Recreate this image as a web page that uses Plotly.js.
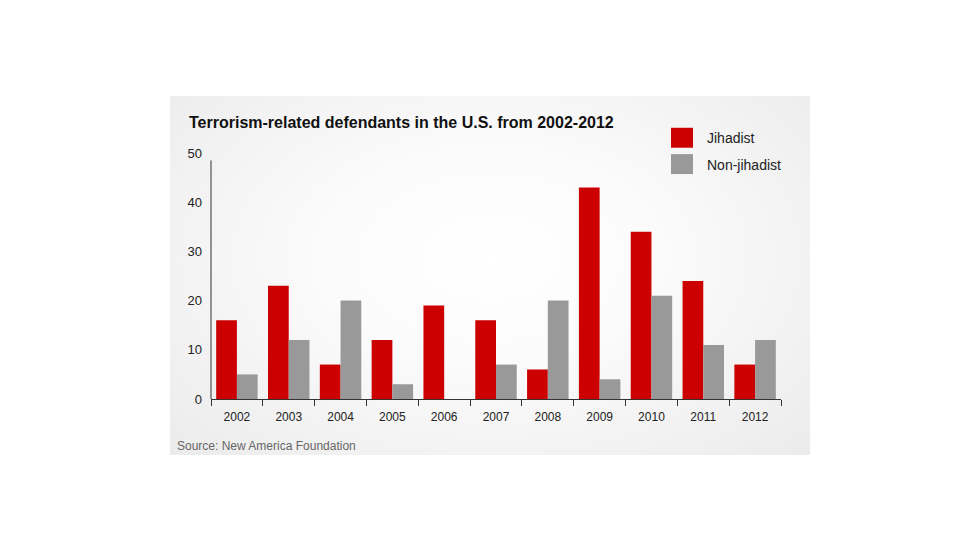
<!DOCTYPE html>
<html>
<head>
<meta charset="utf-8">
<script src="https://cdn.plot.ly/plotly-3.0.1.min.js"></script>
<style>
  html, body { margin: 0; padding: 0; background: #ffffff; }
  #wrap { position: relative; width: 980px; height: 552px; overflow: hidden; }
  #bg { position: absolute; left: 170px; top: 96px; width: 640px; height: 359px;
        background: radial-gradient(ellipse 75% 85% at 50% 45%, #ffffff 0%, #fbfbfb 35%, #f0f0f0 75%, #e9e9e9 100%); }
  #chart { position: absolute; left: 0; top: 0; width: 980px; height: 552px; }
</style>
</head>
<body>
<div id="wrap">
  <div id="bg"></div>
  <div id="chart"></div>
</div>
<script>
// ---- data ----
const years = ["2002","2003","2004","2005","2006","2007","2008","2009","2010","2011","2012"];
const jihadist = [16, 23, 7, 12, 19, 16, 6, 43, 34, 24, 7];
const nonJihadist = [5, 12, 20, 3, 0, 7, 20, 4, 21, 11, 12];
const seriesNames = ["Jihadist", "Non-jihadist"];
const seriesColors = ["#cc0000", "#999999"];
const yTicks = [0, 10, 20, 30, 40, 50];
const titleText = "Terrorism-related defendants in the U.S. from 2002-2012";
const sourceText = "Source: New America Foundation";

// ---- layout geometry (pixels) ----
const W = 980, H = 552;
const L = 211, R = 781, T = 152.6, B = 399.3;
const px = x => (x - L) / (R - L);
const py = y => (B - y) / (B - T);

const font = "Liberation Sans, Arial, Helvetica, sans-serif";

const traces = [
  { type: "bar", x: years, y: jihadist, name: seriesNames[0],
    marker: { color: seriesColors[0] }, showlegend: false },
  { type: "bar", x: years, y: nonJihadist, name: seriesNames[1],
    marker: { color: seriesColors[1] }, showlegend: false }
];

const shapes = [
  // y axis line
  { type: "line", xref: "paper", yref: "paper", x0: 0, x1: 0, y0: 0, y1: py(160),
    line: { color: "#333333", width: 1 } },
  // legend swatches
  { type: "rect", xref: "paper", yref: "paper", x0: px(671), x1: px(693), y0: py(147.3), y1: py(127.3),
    fillcolor: seriesColors[0], line: { width: 0 } },
  { type: "rect", xref: "paper", yref: "paper", x0: px(671), x1: px(693), y0: py(173.7), y1: py(153.7),
    fillcolor: seriesColors[1], line: { width: 0 } }
];

const annotations = [
  { text: seriesNames[0], xref: "paper", yref: "paper", x: px(705), y: py(137.3),
    xanchor: "left", yanchor: "middle", showarrow: false,
    font: { family: font, size: 14, color: "#222222" } },
  { text: seriesNames[1], xref: "paper", yref: "paper", x: px(705), y: py(164.3),
    xanchor: "left", yanchor: "middle", showarrow: false,
    font: { family: font, size: 14, color: "#222222" } },
  { text: sourceText, xref: "paper", yref: "paper", x: px(175), y: py(446.5),
    xanchor: "left", yanchor: "middle", showarrow: false,
    font: { family: font, size: 12, color: "#666666" } }
];

const layout = {
  width: W, height: H,
  margin: { l: L, r: W - R, t: T, b: H - B, pad: 0 },
  paper_bgcolor: "rgba(0,0,0,0)",
  plot_bgcolor: "rgba(0,0,0,0)",
  font: { family: font, color: "#222222" },
  title: {
    text: "<b>" + titleText + "</b>",
    font: { family: font, size: 16, color: "#111111" },
    xref: "container", yref: "container",
    x: 189 / W, xanchor: "left",
    y: 1 - 122.5 / H, yanchor: "middle"
  },
  barmode: "group",
  bargap: 0.2,
  bargroupgap: 0,
  showlegend: false,
  xaxis: {
    type: "category",
    showline: true, linecolor: "#333333", linewidth: 1,
    ticks: "outside", tickson: "boundaries", ticklen: 6, tickcolor: "#333333", tickwidth: 1,
    ticklabelstandoff: 7,
    tickfont: { family: font, size: 12, color: "#222222" },
    showgrid: false, zeroline: false, fixedrange: true
  },
  yaxis: {
    range: [0, 50],
    tickmode: "array", tickvals: yTicks, ticktext: yTicks.map(String),
    showline: false, ticks: "", showgrid: false, zeroline: false,
    ticklabelstandoff: 8,
    tickfont: { family: font, size: 13, color: "#222222" },
    fixedrange: true
  },
  shapes: shapes,
  annotations: annotations
};

Plotly.newPlot("chart", traces, layout, { displayModeBar: false, staticPlot: true });
</script>
</body>
</html>
